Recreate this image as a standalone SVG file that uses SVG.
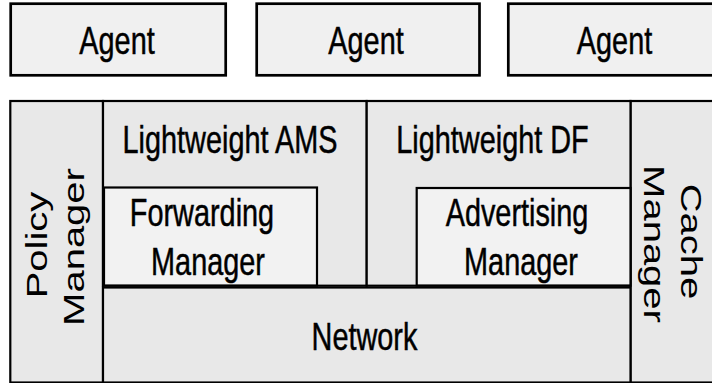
<svg xmlns="http://www.w3.org/2000/svg" width="712" height="383" viewBox="0 0 712 383">
  <style>
    .agent { fill: #f0f0f0; stroke: #000; stroke-width: 2.7; }
    .layer { fill: #e8e8e8; stroke: #000; stroke-width: 2.2; }
    .inner { fill: #f2f2f2; stroke: #000; stroke-width: 2.2; }
    .lbl { font-family: "Liberation Sans", Arial, sans-serif; font-size: 39px; fill: #000; stroke: #000; stroke-width: 0.5; text-anchor: middle; }
    .vlbl { font-family: "Liberation Sans", Arial, sans-serif; font-size: 40px; fill: #000; text-anchor: middle; }
  </style>
  <rect width="712" height="383" fill="#ffffff"/>

  <g id="agent1">
    <rect class="agent" x="10.7" y="3.7" width="215" height="71.6"/>
    <text class="lbl" transform="translate(117,54.3) scale(0.74,1)">Agent</text>
  </g>
  <g id="agent2">
    <rect class="agent" x="256.7" y="3.7" width="222.8" height="71.6"/>
    <text class="lbl" transform="translate(366,54.3) scale(0.74,1)">Agent</text>
  </g>
  <g id="agent3">
    <rect class="agent" x="508.3" y="3.7" width="220" height="71.6"/>
    <text class="lbl" transform="translate(614.5,54.3) scale(0.74,1)">Agent</text>
  </g>

  <g id="policy-manager">
    <rect class="layer" x="10.3" y="101" width="92.7" height="281.5"/>
    <text class="vlbl" transform="translate(46.7,245) scale(0.74,1) rotate(-90)">Policy</text>
    <text class="vlbl" transform="translate(83.7,247) scale(0.74,1) rotate(-90)">Manager</text>
  </g>

  <g id="cache-manager">
    <rect class="layer" x="630.5" y="101" width="93.5" height="281.5"/>
    <text class="vlbl" transform="translate(681,241.5) scale(0.74,1) rotate(90)">Cache</text>
    <text class="vlbl" transform="translate(644,244) scale(0.74,1) rotate(90)">Manager</text>
  </g>

  <g id="lightweight-ams">
    <rect class="layer" x="103" y="101" width="263.7" height="184.7"/>
    <text class="lbl" transform="translate(230,152.7) scale(0.74,1)">Lightweight AMS</text>
  </g>

  <g id="lightweight-df">
    <rect class="layer" x="366.7" y="101" width="263.8" height="184.7"/>
    <text class="lbl" transform="translate(492.5,152.7) scale(0.74,1)">Lightweight DF</text>
  </g>

  <g id="forwarding-manager">
    <rect class="inner" x="104" y="187.5" width="213" height="98"/>
    <text class="lbl" transform="translate(202,225.5) scale(0.74,1)">Forwarding</text>
    <text class="lbl" transform="translate(208,275) scale(0.74,1)">Manager</text>
  </g>

  <g id="advertising-manager">
    <rect class="inner" x="416.7" y="188" width="213.8" height="97.5"/>
    <text class="lbl" transform="translate(517,225.5) scale(0.74,1)">Advertising</text>
    <text class="lbl" transform="translate(521,275) scale(0.74,1)">Manager</text>
  </g>

  <g id="network">
    <rect class="layer" x="103" y="287.5" width="527.5" height="95"/>
    <text class="lbl" transform="translate(364.5,350) scale(0.74,1)">Network</text>
  </g>

  <g id="connectors"/>
</svg>
